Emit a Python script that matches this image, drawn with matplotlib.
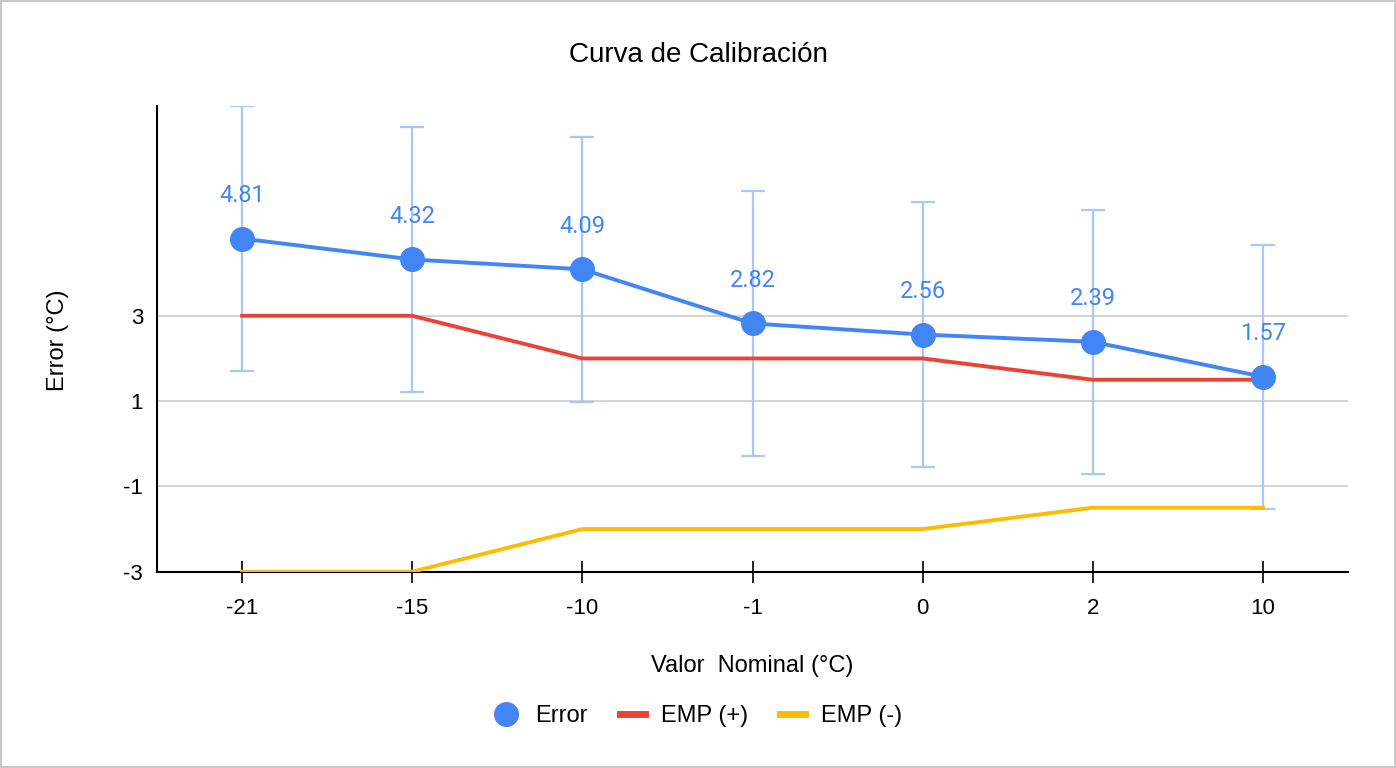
from matplotlib import pyplot as plt
from matplotlib.lines import Line2D
import numpy as np

# Curva de calibración: error medido vs valor nominal
nominal = ["-21", "-15", "-10", "-1", "0", "2", "10"]
error = [4.81, 4.32, 4.09, 2.82, 2.56, 2.39, 1.57]
incert = [3.1, 3.1, 3.1, 3.1, 3.1, 3.1, 3.1]
emp_pos = [3, 3, 2, 2, 2, 1.5, 1.5]
emp_neg = [-3, -3, -2, -2, -2, -1.5, -1.5]

blue = '#4285F4'
red = '#EA4335'
yellow = '#FBBC04'
bar_blue = '#A8C7FA'

plt.rcParams['font.family'] = ['Liberation Sans', 'DejaVu Sans']

fig = plt.figure(figsize=(13.96, 7.68), dpi=100)
fig.patch.set_edgecolor('#C8C8C8')
fig.patch.set_linewidth(1.5)
ax = fig.add_axes([157/1396, 1 - 571.7/768, (1348 - 157)/1396, (571.7 - 105.5)/768])

x = np.arange(len(nominal))

ax.errorbar(x, error, yerr=incert, fmt='none', ecolor=bar_blue, elinewidth=1.6,
            capsize=8.5, capthick=1.6, zorder=2)
ax.plot(x, emp_pos, color=red, lw=2.8, zorder=3)
ax.plot(x, emp_neg, color=yellow, lw=2.8, zorder=3)
ax.plot(x, error, color=blue, lw=2.8, marker='o', ms=17, zorder=4)

for xi, v in zip(x, error):
    ax.annotate(f"{v:.2f}", (xi, v), xytext=(0, 31), textcoords='offset points',
                ha='center', va='center', color=blue, fontsize=17, family='Roboto')

ax.set_xlim(-0.5, len(nominal) - 0.5)
ax.set_ylim(-3, 7.93)
ax.set_xticks(x)
ax.set_xticklabels(nominal, fontsize=16)
ax.set_yticks([-3, -1, 1, 3])
ax.set_yticklabels(['-3', '-1', '1', '3'], fontsize=16)
ax.tick_params(axis='x', direction='inout', length=16, width=1.2, pad=11)
ax.tick_params(axis='y', length=0, pad=10)
ax.grid(axis='y', color='#CCCCCC', lw=1.2, zorder=0)
ax.set_axisbelow(True)
for s in ['top', 'right']:
    ax.spines[s].set_visible(False)
ax.spines['left'].set_linewidth(1.5)
ax.spines['bottom'].set_linewidth(1.5)

fig.text(0.5, 1 - 55/768, 'Curva de Calibración', fontsize=20, ha='center', va='center')
ax.set_xlabel('Valor  Nominal (°C)', fontsize=17, va='center')
ax.xaxis.set_label_coords(0.5, (571.7 - 666) / 466.2)
ax.set_ylabel('Error (°C)', fontsize=17, va='center')
ax.yaxis.set_label_coords((58 - 157) / 1191, 0.5 - (340 - 338.6) / 466.2)

handles = [
    Line2D([], [], color=blue, marker='o', ms=17, lw=0),
    Line2D([], [], color=red, lw=5),
    Line2D([], [], color=yellow, lw=5),
]
fig.legend(handles, ['Error', 'EMP (+)', 'EMP (-)'], loc='center', bbox_to_anchor=(0.5, 1 - 716/768),
           ncol=3, frameon=False, fontsize=17, handlelength=1.06, handletextpad=0.68,
           columnspacing=1.36)

fig.savefig('out.png', dpi=100, edgecolor=fig.get_edgecolor())
